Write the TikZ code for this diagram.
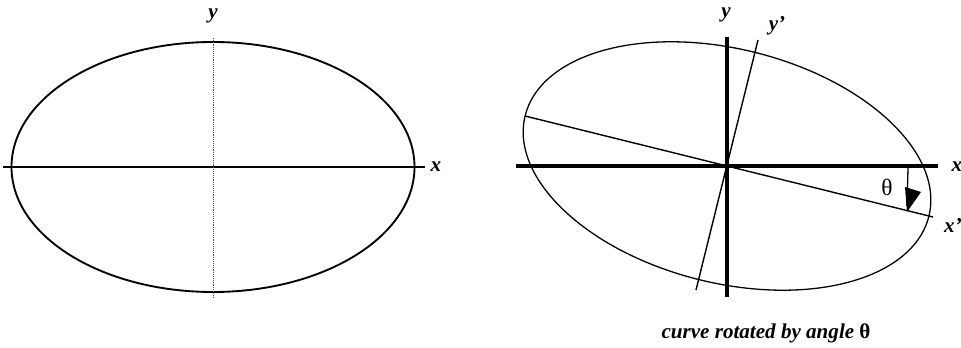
\documentclass[tikz,border=0pt]{standalone}
\usepackage{fontspec}
\setmainfont{Liberation Serif}
\begin{document}
\begin{tikzpicture}[x=0.03cm,y=-0.03cm,
  lbl/.style={font=\fontsize{18}{20}\selectfont\bfseries\itshape, inner sep=0pt},
  thinaxis/.style={line width=0.9pt},
  dotaxis/.style={line width=0.6pt, densely dotted, black!70},
  curveL/.style={line width=1.6pt},
  curveR/.style={line width=1.1pt},
  bigaxis/.style={line width=3.3pt},
  rotaxis/.style={line width=1.2pt}]
\useasboundingbox (0,0) rectangle (961,348);
% ---------- left figure ----------
\coordinate (L) at (213,167);
\coordinate (Lxa) at (3,167);
\coordinate (Lxb) at (425,167);
\coordinate (Lya) at (213,38);
\coordinate (Lyb) at (213,297);
\draw[curveL] (L) ellipse [x radius=6.045cm, y radius=3.75cm];
\draw[thinaxis] (Lxa) -- (Lxb);
\draw[dotaxis] (Lya) -- (Lyb);
\node[lbl] (lx) at (436,167) {x};
\node[lbl] (ly) at (213,16) {y};
% ---------- right figure ----------
\coordinate (R) at (727,166);
\draw[curveR, rotate around={-14:(R)}] (R) ellipse [x radius=6.24cm, y radius=3.51cm];
\coordinate (Rxa) at (516,166);
\coordinate (Rxb) at (938,166);
\coordinate (Rya) at (727,37);
\coordinate (Ryb) at (727,297);
\coordinate (Pxa) at (525,116);
\coordinate (Pxb) at (933,217);
\coordinate (Pya) at (758,40);
\coordinate (Pyb) at (696,290);
\draw[rotaxis] (Pxa) -- (Pxb);
\draw[rotaxis] (Pya) -- (Pyb);
\draw[bigaxis] (Rxa) -- (Rxb);
\draw[bigaxis] (Rya) -- (Ryb);
% angle arrow
\coordinate (ta) at (908,168);
\coordinate (tb) at (907,206);
\draw[line width=1.1pt] (ta) -- (tb);
\fill (905,187) -- (921,192) -- (907,212) -- cycle;
\node[font=\fontsize{20}{22}\selectfont, inner sep=0pt] (th) at (887,187) {θ};
\node[lbl] (rx) at (957,167) {x};
\node[lbl] (rxp) at (953,225) {x’};
\node[lbl] (ry) at (726,15) {y};
\node[lbl] (ryp) at (777,26) {y’};
\node[lbl, font=\fontsize{18}{20}\selectfont\bfseries\itshape] (cap) at (766,333) {curve rotated by angle \upshape θ};
\end{tikzpicture}
\end{document}
